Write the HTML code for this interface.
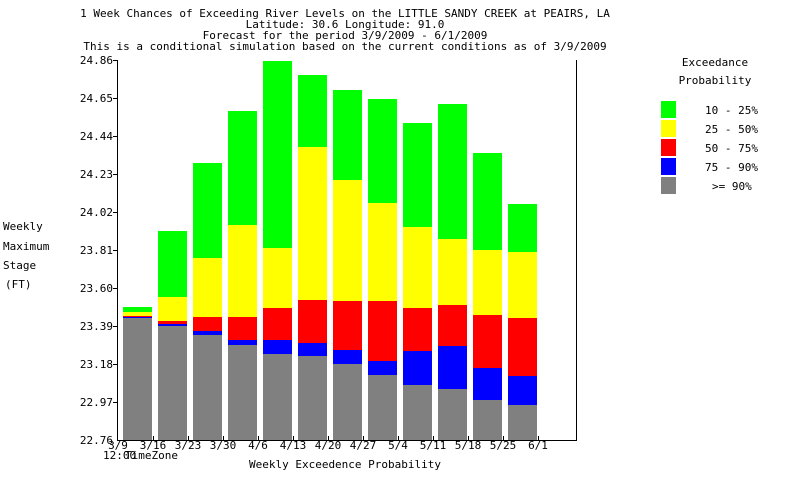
<!DOCTYPE html>
<html><head><style>body{margin:0;background:#fff}svg{display:block}text{font-family:"DejaVu Sans Mono","Liberation Mono",monospace;font-size:11px;fill:#000}.g{fill:#0f0}.y{fill:#ff0}.r{fill:#f00}.b{fill:#00f}.k{fill:#808080}</style></head>
<body>
<svg width="800" height="500" xmlns="http://www.w3.org/2000/svg">
<g text-anchor="middle">
<text x="345" y="17">1 Week Chances of Exceeding River Levels on the LITTLE SANDY CREEK at PEAIRS, LA</text>
<text x="345" y="28">Latitude: 30.6    Longitude:  91.0</text>
<text x="345" y="39">Forecast for the period 3/9/2009 - 6/1/2009</text>
<text x="345" y="50">This is a conditional simulation based on the current conditions as of 3/9/2009</text>
</g>
<g>
<rect class="g" x="123" y="307" width="29" height="133"/><rect class="y" x="123" y="312" width="29" height="128"/><rect class="r" x="123" y="316" width="29" height="124"/><rect class="b" x="123" y="317" width="29" height="123"/><rect class="k" x="123" y="318" width="29" height="122"/>
<rect class="g" x="158" y="231" width="29" height="209"/><rect class="y" x="158" y="297" width="29" height="143"/><rect class="r" x="158" y="321" width="29" height="119"/><rect class="b" x="158" y="324" width="29" height="116"/><rect class="k" x="158" y="326" width="29" height="114"/>
<rect class="g" x="193" y="163" width="29" height="277"/><rect class="y" x="193" y="258" width="29" height="182"/><rect class="r" x="193" y="317" width="29" height="123"/><rect class="b" x="193" y="331" width="29" height="109"/><rect class="k" x="193" y="335" width="29" height="105"/>
<rect class="g" x="228" y="111" width="29" height="329"/><rect class="y" x="228" y="225" width="29" height="215"/><rect class="r" x="228" y="317" width="29" height="123"/><rect class="b" x="228" y="340" width="29" height="100"/><rect class="k" x="228" y="345" width="29" height="95"/>
<rect class="g" x="263" y="61" width="29" height="379"/><rect class="y" x="263" y="248" width="29" height="192"/><rect class="r" x="263" y="308" width="29" height="132"/><rect class="b" x="263" y="340" width="29" height="100"/><rect class="k" x="263" y="354" width="29" height="86"/>
<rect class="g" x="298" y="75" width="29" height="365"/><rect class="y" x="298" y="147" width="29" height="293"/><rect class="r" x="298" y="300" width="29" height="140"/><rect class="b" x="298" y="343" width="29" height="97"/><rect class="k" x="298" y="356" width="29" height="84"/>
<rect class="g" x="333" y="90" width="29" height="350"/><rect class="y" x="333" y="180" width="29" height="260"/><rect class="r" x="333" y="301" width="29" height="139"/><rect class="b" x="333" y="350" width="29" height="90"/><rect class="k" x="333" y="364" width="29" height="76"/>
<rect class="g" x="368" y="99" width="29" height="341"/><rect class="y" x="368" y="203" width="29" height="237"/><rect class="r" x="368" y="301" width="29" height="139"/><rect class="b" x="368" y="361" width="29" height="79"/><rect class="k" x="368" y="375" width="29" height="65"/>
<rect class="g" x="403" y="123" width="29" height="317"/><rect class="y" x="403" y="227" width="29" height="213"/><rect class="r" x="403" y="308" width="29" height="132"/><rect class="b" x="403" y="351" width="29" height="89"/><rect class="k" x="403" y="385" width="29" height="55"/>
<rect class="g" x="438" y="104" width="29" height="336"/><rect class="y" x="438" y="239" width="29" height="201"/><rect class="r" x="438" y="305" width="29" height="135"/><rect class="b" x="438" y="346" width="29" height="94"/><rect class="k" x="438" y="389" width="29" height="51"/>
<rect class="g" x="473" y="153" width="29" height="287"/><rect class="y" x="473" y="250" width="29" height="190"/><rect class="r" x="473" y="315" width="29" height="125"/><rect class="b" x="473" y="368" width="29" height="72"/><rect class="k" x="473" y="400" width="29" height="40"/>
<rect class="g" x="508" y="204" width="29" height="236"/><rect class="y" x="508" y="252" width="29" height="188"/><rect class="r" x="508" y="318" width="29" height="122"/><rect class="b" x="508" y="376" width="29" height="64"/><rect class="k" x="508" y="405" width="29" height="35"/>
</g>
<line x1="117.5" y1="60" x2="117.5" y2="441" stroke="#000"/>
<line x1="576.5" y1="60" x2="576.5" y2="441" stroke="#000"/>
<line x1="117" y1="440.5" x2="577" y2="440.5" stroke="#000"/>
<g stroke="#000">
<line x1="113" y1="60.5" x2="117" y2="60.5"/><line x1="113" y1="98.5" x2="117" y2="98.5"/><line x1="113" y1="136.5" x2="117" y2="136.5"/><line x1="113" y1="174.5" x2="117" y2="174.5"/><line x1="113" y1="212.5" x2="117" y2="212.5"/><line x1="113" y1="250.5" x2="117" y2="250.5"/><line x1="113" y1="288.5" x2="117" y2="288.5"/><line x1="113" y1="326.5" x2="117" y2="326.5"/><line x1="113" y1="364.5" x2="117" y2="364.5"/><line x1="113" y1="402.5" x2="117" y2="402.5"/>
<line x1="153.5" y1="436" x2="153.5" y2="440"/><line x1="188.5" y1="436" x2="188.5" y2="440"/><line x1="223.5" y1="436" x2="223.5" y2="440"/><line x1="258.5" y1="436" x2="258.5" y2="440"/><line x1="293.5" y1="436" x2="293.5" y2="440"/><line x1="328.5" y1="436" x2="328.5" y2="440"/><line x1="363.5" y1="436" x2="363.5" y2="440"/><line x1="398.5" y1="436" x2="398.5" y2="440"/><line x1="433.5" y1="436" x2="433.5" y2="440"/><line x1="468.5" y1="436" x2="468.5" y2="440"/><line x1="503.5" y1="436" x2="503.5" y2="440"/><line x1="538.5" y1="436" x2="538.5" y2="440"/>
</g>
<g text-anchor="end">
<text x="113" y="64">24.86</text><text x="113" y="102">24.65</text><text x="113" y="140">24.44</text><text x="113" y="178">24.23</text><text x="113" y="216">24.02</text><text x="113" y="254">23.81</text><text x="113" y="292">23.60</text><text x="113" y="330">23.39</text><text x="113" y="368">23.18</text><text x="113" y="406">22.97</text><text x="113" y="444">22.76</text>
</g>
<g text-anchor="middle">
<text x="118" y="449">3/9</text><text x="153" y="449">3/16</text><text x="188" y="449">3/23</text><text x="223" y="449">3/30</text><text x="258" y="449">4/6</text><text x="293" y="449">4/13</text><text x="328" y="449">4/20</text><text x="363" y="449">4/27</text><text x="398" y="449">5/4</text><text x="433" y="449">5/11</text><text x="468" y="449">5/18</text><text x="503" y="449">5/25</text><text x="538" y="449">6/1</text>
</g>
<text x="103" y="459">12:00</text><text x="125" y="459">TimeZone</text>
<text x="345" y="468" text-anchor="middle">Weekly Exceedence Probability</text>
<text x="3" y="230">Weekly</text><text x="3" y="250">Maximum</text><text x="3" y="269">Stage</text><text x="5" y="288">(FT)</text>
<text x="715" y="66" text-anchor="middle">Exceedance</text>
<text x="715" y="84" text-anchor="middle">Probability</text>
<rect x="661" y="101" width="15" height="17" fill="#0f0"/><rect x="661" y="120" width="15" height="17" fill="#ff0"/><rect x="661" y="139" width="15" height="17" fill="#f00"/><rect x="661" y="158" width="15" height="17" fill="#00f"/><rect x="661" y="177" width="15" height="17" fill="#808080"/>
<text x="705" y="114">10 - 25%</text><text x="705" y="133">25 - 50%</text><text x="705" y="152">50 - 75%</text><text x="705" y="171">75 - 90%</text><text x="712" y="190">&gt;= 90%</text>
</svg>
</body></html>
